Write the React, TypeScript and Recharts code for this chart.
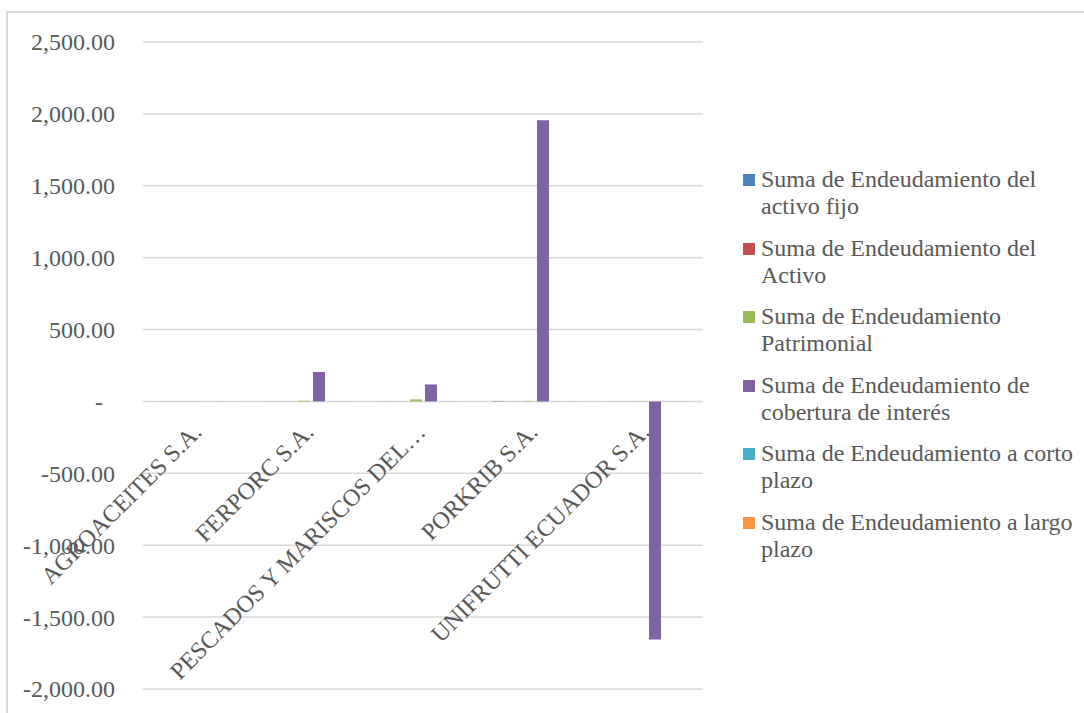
import React from "react";
import { BarChart, Bar, XAxis, YAxis, CartesianGrid } from "recharts";

const categories = [
  "AGROACEITES S.A.",
  "FERPORC S.A.",
  "PESCADOS Y MARISCOS DEL…",
  "PORKRIB S.A.",
  "UNIFRUTTI ECUADOR S.A.",
];
const activoFijo = [0.4, 0.6, 0.9, 2.5, 0.3];
const activo = [0.5, 0.7, 0.8, 0.9, 0.5];
const patrimonial = [1.2, 5, 14, 3, -2.5];
const cobertura = [0, 205, 118, 1955, -1655];
const cortoPlazo = [0.4, 0.6, 0.7, 0.4, 0.6];
const largoPlazo = [0.3, 0.4, 0.3, 0.6, 0.4];

const seriesNames = [
  "Suma de Endeudamiento del activo fijo",
  "Suma de Endeudamiento del Activo",
  "Suma de Endeudamiento Patrimonial",
  "Suma de Endeudamiento de cobertura de interés",
  "Suma de Endeudamiento a corto plazo",
  "Suma de Endeudamiento a largo plazo",
];
const seriesKeys = ["s1", "s2", "s3", "s4", "s5", "s6"];
const seriesColors = ["#4F81BD", "#C0504D", "#9BBB59", "#8064A2", "#4BACC6", "#F79646"];
const seriesValues = [activoFijo, activo, patrimonial, cobertura, cortoPlazo, largoPlazo];

const yTicks = [-2000, -1500, -1000, -500, 0, 500, 1000, 1500, 2000, 2500];
const Y_MIN = -2000;
const Y_MAX = 2500;

const data = categories.map((name, i) => {
  const row: Record<string, any> = { name };
  seriesKeys.forEach((k, j) => {
    row[k] = seriesValues[j][i];
  });
  return row;
});

const FONT = '"Liberation Serif", "Times New Roman", serif';
const TEXT_COLOR = "#595959";
const CHART_W = 720;
const CHART_H = 713;
const M_TOP = 42;
const M_BOTTOM = 23;
const X_AXIS_H = 1;
const PLOT_TOP = M_TOP;
const PLOT_BOTTOM = CHART_H - M_BOTTOM - X_AXIS_H;
const ZERO_Y = PLOT_TOP + ((Y_MAX - 0) / (Y_MAX - Y_MIN)) * (PLOT_BOTTOM - PLOT_TOP);

const fmt = (v: number) =>
  v.toLocaleString("en-US", { minimumFractionDigits: 2, maximumFractionDigits: 2 });

const YTick = (props: any) => {
  const { x, y, payload } = props;
  const v = payload.value;
  const isZero = v === 0;
  return (
    <text
      x={x - (isZero ? 12 : 0)}
      y={y}
      dy="0.35em"
      textAnchor="end"
      fill={TEXT_COLOR}
      fontFamily={FONT}
      fontSize={24}
    >
      {isZero ? "-" : fmt(v)}
    </text>
  );
};

const XTick = (props: any) => {
  const { x, payload } = props;
  const ax = x + 4;
  const ay = ZERO_Y + 32;
  return (
    <text
      x={ax}
      y={ay}
      transform={`rotate(-45, ${ax}, ${ay})`}
      textAnchor="end"
      fill={TEXT_COLOR}
      fontFamily={FONT}
      fontSize={24}
    >
      {payload.value}
    </text>
  );
};

export default function App() {
  return (
    <div
      style={{
        position: "fixed",
        left: 0,
        top: 0,
        width: 1084,
        height: 713,
        overflow: "hidden",
        background: "#ffffff",
        fontFamily: FONT,
      }}
    >
      <div
        style={{
          position: "absolute",
          left: 6,
          top: 11,
          width: 1200,
          height: 800,
          borderLeft: "2px solid #d9d9d9",
          borderTop: "2px solid #d9d9d9",
        }}
      />
      <div style={{ position: "absolute", left: 0, top: 0 }}>
        <BarChart
          width={CHART_W}
          height={CHART_H}
          data={data}
          margin={{ top: M_TOP, right: 17, bottom: M_BOTTOM, left: 0 }}
          barCategoryGap={13}
          barGap={3}
        >
          <CartesianGrid vertical={false} stroke="#d9d9d9" strokeWidth={1.5} />
          <XAxis
            dataKey="name"
            height={X_AXIS_H}
            axisLine={false}
            tickLine={false}
            interval={0}
            tick={<XTick />}
          />
          <YAxis
            width={143}
            domain={[Y_MIN, Y_MAX]}
            ticks={yTicks}
            axisLine={false}
            tickLine={false}
            tickSize={0}
            tickMargin={28}
            tick={<YTick />}
          />
          {seriesKeys.map((k, j) => (
            <Bar
              key={k}
              dataKey={k}
              name={seriesNames[j]}
              fill={seriesColors[j]}
              isAnimationActive={false}
            />
          ))}
        </BarChart>
      </div>
      <div
        style={{
          position: "absolute",
          left: 743,
          top: 166,
          width: 335,
          fontFamily: FONT,
          fontSize: 24,
          color: TEXT_COLOR,
          lineHeight: "27px",
        }}
      >
        {seriesNames.map((n, j) => (
          <div
            key={n}
            style={{ display: "flex", alignItems: "flex-start", marginBottom: 14.6 }}
          >
            <div
              style={{
                width: 12,
                height: 12,
                background: seriesColors[j],
                marginTop: 8,
                marginRight: 6,
                flexShrink: 0,
              }}
            />
            <div style={{ width: 317 }}>{n}</div>
          </div>
        ))}
      </div>
    </div>
  );
}
